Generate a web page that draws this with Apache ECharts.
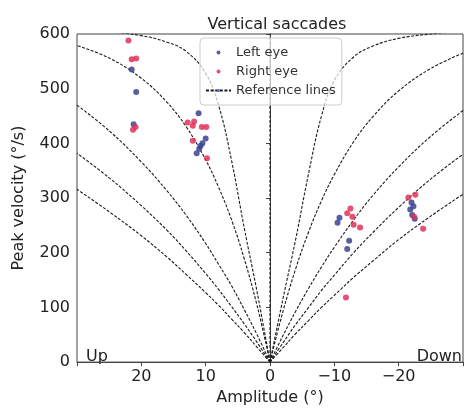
<!DOCTYPE html>
<html>
<head>
<meta charset="utf-8">
<script src="https://cdn.jsdelivr.net/npm/echarts@6/dist/echarts.min.js"></script>
<style>html,body{margin:0;padding:0;background:#fff}#c{width:466px;height:411px}</style>
</head>
<body>
<div id="c"></div>
<script>
// Amplitude grid (absolute degrees) for reference lines
const refAmp = [0, 2, 4, 6, 8, 10, 13, 16, 20, 25, 30];
// Up-side (positive amplitude) reference lines, peak velocity values
const upRef1 = [0, 128, 245, 370, 470, 528, 568, 585, 597, 604, 608];
const upRef2 = [0, 103, 189, 261, 320, 370, 430, 475, 519, 556, 579];
const upRef3 = [0, 50, 96, 140, 179, 217, 268, 313, 366, 423, 470];
const upRef4 = [0, 36, 70, 102, 133, 162, 203, 241, 286, 337, 382];
const upRef5 = [0, 27, 54, 79, 104, 127, 160, 192, 231, 275, 316];
// Down-side (negative amplitude) reference lines
const downRef1 = [0, 115, 225, 345, 450, 515, 558, 578, 592, 600, 605];
const downRef2 = [0, 92, 171, 238, 295, 343, 403, 449, 496, 537, 565];
const downRef3 = [0, 48, 93, 135, 174, 210, 260, 305, 357, 413, 460];
const downRef4 = [0, 35, 69, 100, 131, 159, 200, 237, 283, 335, 380];
const downRef5 = [0, 26, 52, 76, 100, 122, 155, 185, 224, 267, 307];

// Saccades: [amplitude (deg), peak velocity (deg/s)]
const leftEye = [
  [21.5, 535], [20.8, 494], [21.2, 435],
  [11.1, 455], [10.0, 409], [10.5, 400], [11.0, 390], [11.4, 382], [10.8, 395],
  [-10.8, 264], [-10.5, 255], [-12.3, 222], [-12.0, 207],
  [-22.0, 292], [-21.8, 279], [-22.1, 269], [-22.5, 262], [-22.3, 285]
];
const rightEye = [
  [22.0, 588], [21.5, 554], [20.8, 555], [21.3, 425], [20.9, 430],
  [12.8, 438], [12.0, 432], [10.6, 430], [9.9, 430], [12.0, 405], [9.8, 373], [11.8, 440],
  [-12.5, 281], [-12.0, 272], [-12.8, 266], [-13.0, 251], [-14.0, 246], [-11.8, 118],
  [-22.6, 306], [-21.5, 301], [-22.4, 266], [-23.8, 244]
];
const xTicks = [-30, -20, -10, 0, 10, 20, 30];
const yTicks = [0, 100, 200, 300, 400, 500, 600];

const font = 'DejaVu Sans';
const lineColor = '#1a1a1a';
const dash = [3, 1.6];
function refSeries(vals, sign) {
  return {
    name: 'Reference lines', type: 'line', smooth: 0.4, symbol: 'none', silent: true,
    lineStyle: { color: lineColor, width: 1.1, type: dash },
    data: refAmp.map((a, i) => [sign * a, vals[i]]),
    z: 2
  };
}
const series = [];
[upRef1, upRef2, upRef3, upRef4, upRef5].forEach(v => series.push(refSeries(v, 1)));
[downRef1, downRef2, downRef3, downRef4, downRef5].forEach(v => series.push(refSeries(v, -1)));
series.push({
  name: 'Reference lines', type: 'line', symbol: 'none', silent: true,
  lineStyle: { color: lineColor, width: 1.1, type: dash },
  data: [[0, yTicks[0]], [0, yTicks[yTicks.length - 1]]], z: 2
});
series.push({
  name: 'Left eye', type: 'scatter', symbol: 'circle', symbolSize: 6,
  itemStyle: { color: '#3b4391', opacity: 0.85 }, data: leftEye, z: 4
});
series.push({
  name: 'Right eye', type: 'scatter', symbol: 'circle', symbolSize: 6,
  itemStyle: { color: '#e3315a', opacity: 0.85 }, data: rightEye, z: 4
});

const chart = echarts.init(document.getElementById('c'), null, { renderer: 'canvas' });
const fmt = v => (Math.abs(v) >= 30 ? '' : (v < 0 ? '\u2212' + (-v) : String(v)));
chart.setOption({
  animation: false,
  textStyle: { fontFamily: font },
  title: {
    text: 'Vertical saccades', left: 272, top: 12, textAlign: 'center',
    textStyle: { fontFamily: font, fontSize: 16, fontWeight: 'normal', color: '#222' }
  },
  grid: { left: 77, right: 0, top: 34, bottom: 43, show: true, borderColor: '#444', borderWidth: 1 },
  legend: {
    data: ['Left eye', 'Right eye', 'Reference lines'],
    orient: 'vertical', left: 200, top: 38, itemWidth: 25, itemHeight: 4, itemGap: 6,
    padding: [8, 6, 8, 5], borderColor: '#ccc', borderWidth: 1, borderRadius: 4,
    backgroundColor: 'rgba(255,255,255,0.7)',
    textStyle: { fontFamily: font, fontSize: 13, color: '#333' }
  },
  xAxis: {
    type: 'value', inverse: true, min: xTicks[0], max: xTicks[xTicks.length - 1], interval: 10,
    name: 'Amplitude (°)', nameLocation: 'middle', nameGap: 25,
    nameTextStyle: { fontFamily: font, fontSize: 16, color: '#222' },
    axisLine: { lineStyle: { color: '#444' } },
    axisTick: { length: 4, lineStyle: { color: '#444' } },
    axisLabel: { formatter: fmt, fontFamily: font, fontSize: 16, color: '#222', margin: 7 },
    splitLine: { show: false }
  },
  yAxis: {
    type: 'value', min: yTicks[0], max: yTicks[yTicks.length - 1], interval: 100,
    name: 'Peak velocity (°/s)', nameLocation: 'middle', nameGap: 50,
    nameTextStyle: { fontFamily: font, fontSize: 16, color: '#222' },
    axisLine: { show: true, lineStyle: { color: '#444' } },
    axisTick: { show: true, length: 4, lineStyle: { color: '#444' } },
    axisLabel: { fontFamily: font, fontSize: 16, color: '#222', margin: 7 },
    splitLine: { show: false }
  },
  graphic: [
    { type: 'text', left: 86, top: 349, style: { text: 'Up', font: '16px "DejaVu Sans"', fill: '#222' } },
    { type: 'text', right: 4, top: 349, style: { text: 'Down', font: '16px "DejaVu Sans"', fill: '#222' } }
  ],
  series: series
});
</script>
</body>
</html>
